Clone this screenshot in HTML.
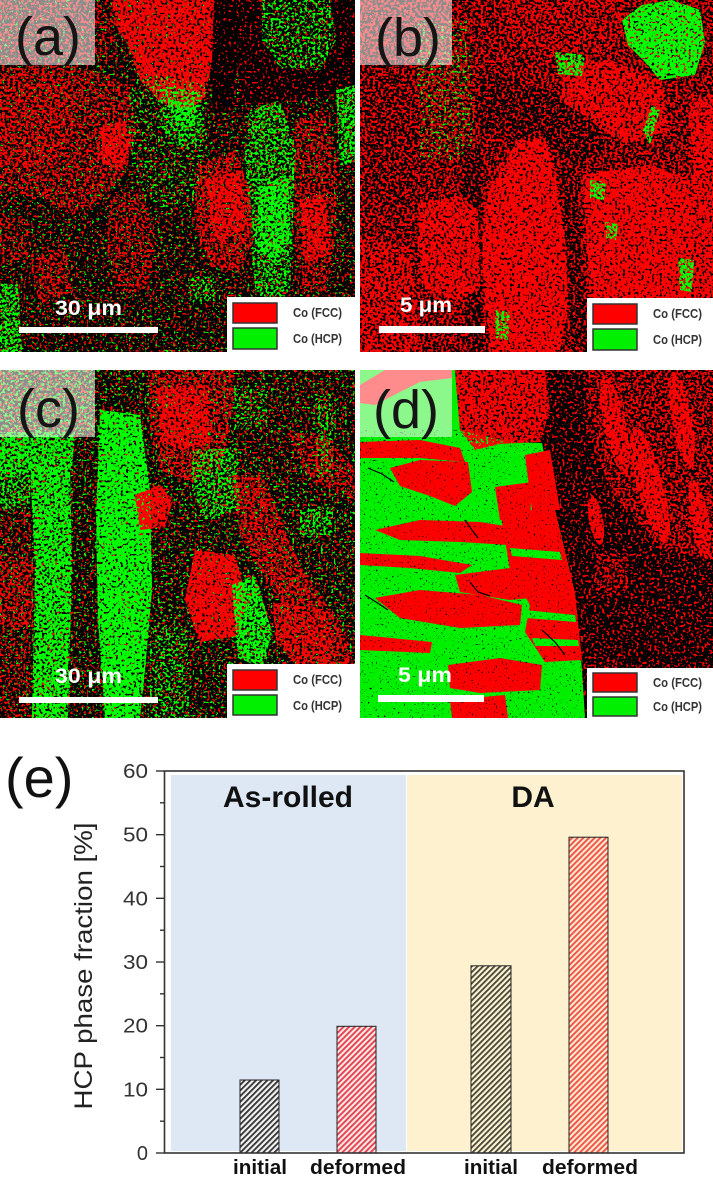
<!DOCTYPE html>
<html><head><meta charset="utf-8"><style>html,body{margin:0;padding:0;background:#fff}svg{display:block}</style></head>
<body>
<svg xmlns="http://www.w3.org/2000/svg" width="713" height="1183" viewBox="0 0 713 1183">
<defs>
<clipPath id="c1"><rect width="355" height="352"/></clipPath>
<clipPath id="c2"><rect width="353" height="352"/></clipPath>
<clipPath id="c3"><rect width="355" height="348"/></clipPath>
<clipPath id="c4"><rect width="353" height="348"/></clipPath>
<filter id="R10" x="0" y="0" width="1" height="1" color-interpolation-filters="sRGB"><feTurbulence type="fractalNoise" baseFrequency="0.38" numOctaves="2" seed="3" result="t"/><feColorMatrix in="t" type="matrix" values="0 0 0 0 0 0 0 0 0 0 0 0 0 0 0 20 0 0 0 -12.82" result="a"/><feComposite in="SourceGraphic" in2="a" operator="in"/></filter>
<filter id="R15" x="0" y="0" width="1" height="1" color-interpolation-filters="sRGB"><feTurbulence type="fractalNoise" baseFrequency="0.38" numOctaves="2" seed="3" result="t"/><feColorMatrix in="t" type="matrix" values="0 0 0 0 0 0 0 0 0 0 0 0 0 0 0 20 0 0 0 -12.28" result="a"/><feComposite in="SourceGraphic" in2="a" operator="in"/></filter>
<filter id="R20" x="0" y="0" width="1" height="1" color-interpolation-filters="sRGB"><feTurbulence type="fractalNoise" baseFrequency="0.38" numOctaves="2" seed="3" result="t"/><feColorMatrix in="t" type="matrix" values="0 0 0 0 0 0 0 0 0 0 0 0 0 0 0 20 0 0 0 -11.85" result="a"/><feComposite in="SourceGraphic" in2="a" operator="in"/></filter>
<filter id="R25" x="0" y="0" width="1" height="1" color-interpolation-filters="sRGB"><feTurbulence type="fractalNoise" baseFrequency="0.38" numOctaves="2" seed="3" result="t"/><feColorMatrix in="t" type="matrix" values="0 0 0 0 0 0 0 0 0 0 0 0 0 0 0 20 0 0 0 -11.48" result="a"/><feComposite in="SourceGraphic" in2="a" operator="in"/></filter>
<filter id="R30" x="0" y="0" width="1" height="1" color-interpolation-filters="sRGB"><feTurbulence type="fractalNoise" baseFrequency="0.38" numOctaves="2" seed="3" result="t"/><feColorMatrix in="t" type="matrix" values="0 0 0 0 0 0 0 0 0 0 0 0 0 0 0 20 0 0 0 -11.15" result="a"/><feComposite in="SourceGraphic" in2="a" operator="in"/></filter>
<filter id="R35" x="0" y="0" width="1" height="1" color-interpolation-filters="sRGB"><feTurbulence type="fractalNoise" baseFrequency="0.38" numOctaves="2" seed="3" result="t"/><feColorMatrix in="t" type="matrix" values="0 0 0 0 0 0 0 0 0 0 0 0 0 0 0 20 0 0 0 -10.85" result="a"/><feComposite in="SourceGraphic" in2="a" operator="in"/></filter>
<filter id="R40" x="0" y="0" width="1" height="1" color-interpolation-filters="sRGB"><feTurbulence type="fractalNoise" baseFrequency="0.38" numOctaves="2" seed="3" result="t"/><feColorMatrix in="t" type="matrix" values="0 0 0 0 0 0 0 0 0 0 0 0 0 0 0 20 0 0 0 -10.56" result="a"/><feComposite in="SourceGraphic" in2="a" operator="in"/></filter>
<filter id="R45" x="0" y="0" width="1" height="1" color-interpolation-filters="sRGB"><feTurbulence type="fractalNoise" baseFrequency="0.38" numOctaves="2" seed="3" result="t"/><feColorMatrix in="t" type="matrix" values="0 0 0 0 0 0 0 0 0 0 0 0 0 0 0 20 0 0 0 -10.28" result="a"/><feComposite in="SourceGraphic" in2="a" operator="in"/></filter>
<filter id="R50" x="0" y="0" width="1" height="1" color-interpolation-filters="sRGB"><feTurbulence type="fractalNoise" baseFrequency="0.38" numOctaves="2" seed="3" result="t"/><feColorMatrix in="t" type="matrix" values="0 0 0 0 0 0 0 0 0 0 0 0 0 0 0 20 0 0 0 -10" result="a"/><feComposite in="SourceGraphic" in2="a" operator="in"/></filter>
<filter id="R55" x="0" y="0" width="1" height="1" color-interpolation-filters="sRGB"><feTurbulence type="fractalNoise" baseFrequency="0.38" numOctaves="2" seed="3" result="t"/><feColorMatrix in="t" type="matrix" values="0 0 0 0 0 0 0 0 0 0 0 0 0 0 0 20 0 0 0 -9.72" result="a"/><feComposite in="SourceGraphic" in2="a" operator="in"/></filter>
<filter id="R60" x="0" y="0" width="1" height="1" color-interpolation-filters="sRGB"><feTurbulence type="fractalNoise" baseFrequency="0.38" numOctaves="2" seed="3" result="t"/><feColorMatrix in="t" type="matrix" values="0 0 0 0 0 0 0 0 0 0 0 0 0 0 0 20 0 0 0 -9.44" result="a"/><feComposite in="SourceGraphic" in2="a" operator="in"/></filter>
<filter id="R65" x="0" y="0" width="1" height="1" color-interpolation-filters="sRGB"><feTurbulence type="fractalNoise" baseFrequency="0.38" numOctaves="2" seed="3" result="t"/><feColorMatrix in="t" type="matrix" values="0 0 0 0 0 0 0 0 0 0 0 0 0 0 0 20 0 0 0 -9.15" result="a"/><feComposite in="SourceGraphic" in2="a" operator="in"/></filter>
<filter id="R75" x="0" y="0" width="1" height="1" color-interpolation-filters="sRGB"><feTurbulence type="fractalNoise" baseFrequency="0.38" numOctaves="2" seed="3" result="t"/><feColorMatrix in="t" type="matrix" values="0 0 0 0 0 0 0 0 0 0 0 0 0 0 0 20 0 0 0 -8.52" result="a"/><feComposite in="SourceGraphic" in2="a" operator="in"/></filter>
<filter id="R85" x="0" y="0" width="1" height="1" color-interpolation-filters="sRGB"><feTurbulence type="fractalNoise" baseFrequency="0.38" numOctaves="2" seed="3" result="t"/><feColorMatrix in="t" type="matrix" values="0 0 0 0 0 0 0 0 0 0 0 0 0 0 0 20 0 0 0 -7.72" result="a"/><feComposite in="SourceGraphic" in2="a" operator="in"/></filter>
<filter id="R90" x="0" y="0" width="1" height="1" color-interpolation-filters="sRGB"><feTurbulence type="fractalNoise" baseFrequency="0.38" numOctaves="2" seed="3" result="t"/><feColorMatrix in="t" type="matrix" values="0 0 0 0 0 0 0 0 0 0 0 0 0 0 0 20 0 0 0 -7.18" result="a"/><feComposite in="SourceGraphic" in2="a" operator="in"/></filter>
<filter id="G08" x="0" y="0" width="1" height="1" color-interpolation-filters="sRGB"><feTurbulence type="fractalNoise" baseFrequency="0.38" numOctaves="2" seed="11" result="t"/><feColorMatrix in="t" type="matrix" values="0 0 0 0 0 0 0 0 0 0 0 0 0 0 0 20 0 0 0 -13.1" result="a"/><feComposite in="SourceGraphic" in2="a" operator="in"/></filter>
<filter id="G12" x="0" y="0" width="1" height="1" color-interpolation-filters="sRGB"><feTurbulence type="fractalNoise" baseFrequency="0.38" numOctaves="2" seed="11" result="t"/><feColorMatrix in="t" type="matrix" values="0 0 0 0 0 0 0 0 0 0 0 0 0 0 0 20 0 0 0 -12.58" result="a"/><feComposite in="SourceGraphic" in2="a" operator="in"/></filter>
<filter id="G20" x="0" y="0" width="1" height="1" color-interpolation-filters="sRGB"><feTurbulence type="fractalNoise" baseFrequency="0.38" numOctaves="2" seed="11" result="t"/><feColorMatrix in="t" type="matrix" values="0 0 0 0 0 0 0 0 0 0 0 0 0 0 0 20 0 0 0 -11.85" result="a"/><feComposite in="SourceGraphic" in2="a" operator="in"/></filter>
<filter id="G35" x="0" y="0" width="1" height="1" color-interpolation-filters="sRGB"><feTurbulence type="fractalNoise" baseFrequency="0.38" numOctaves="2" seed="11" result="t"/><feColorMatrix in="t" type="matrix" values="0 0 0 0 0 0 0 0 0 0 0 0 0 0 0 20 0 0 0 -10.85" result="a"/><feComposite in="SourceGraphic" in2="a" operator="in"/></filter>
<filter id="G40" x="0" y="0" width="1" height="1" color-interpolation-filters="sRGB"><feTurbulence type="fractalNoise" baseFrequency="0.38" numOctaves="2" seed="11" result="t"/><feColorMatrix in="t" type="matrix" values="0 0 0 0 0 0 0 0 0 0 0 0 0 0 0 20 0 0 0 -10.56" result="a"/><feComposite in="SourceGraphic" in2="a" operator="in"/></filter>
<filter id="G50" x="0" y="0" width="1" height="1" color-interpolation-filters="sRGB"><feTurbulence type="fractalNoise" baseFrequency="0.38" numOctaves="2" seed="11" result="t"/><feColorMatrix in="t" type="matrix" values="0 0 0 0 0 0 0 0 0 0 0 0 0 0 0 20 0 0 0 -10" result="a"/><feComposite in="SourceGraphic" in2="a" operator="in"/></filter>
<filter id="G60" x="0" y="0" width="1" height="1" color-interpolation-filters="sRGB"><feTurbulence type="fractalNoise" baseFrequency="0.38" numOctaves="2" seed="11" result="t"/><feColorMatrix in="t" type="matrix" values="0 0 0 0 0 0 0 0 0 0 0 0 0 0 0 20 0 0 0 -9.44" result="a"/><feComposite in="SourceGraphic" in2="a" operator="in"/></filter>
<filter id="G70" x="0" y="0" width="1" height="1" color-interpolation-filters="sRGB"><feTurbulence type="fractalNoise" baseFrequency="0.38" numOctaves="2" seed="11" result="t"/><feColorMatrix in="t" type="matrix" values="0 0 0 0 0 0 0 0 0 0 0 0 0 0 0 20 0 0 0 -8.85" result="a"/><feComposite in="SourceGraphic" in2="a" operator="in"/></filter>
<filter id="G75" x="0" y="0" width="1" height="1" color-interpolation-filters="sRGB"><feTurbulence type="fractalNoise" baseFrequency="0.38" numOctaves="2" seed="11" result="t"/><feColorMatrix in="t" type="matrix" values="0 0 0 0 0 0 0 0 0 0 0 0 0 0 0 20 0 0 0 -8.52" result="a"/><feComposite in="SourceGraphic" in2="a" operator="in"/></filter>
<filter id="G80" x="0" y="0" width="1" height="1" color-interpolation-filters="sRGB"><feTurbulence type="fractalNoise" baseFrequency="0.38" numOctaves="2" seed="11" result="t"/><feColorMatrix in="t" type="matrix" values="0 0 0 0 0 0 0 0 0 0 0 0 0 0 0 20 0 0 0 -8.15" result="a"/><feComposite in="SourceGraphic" in2="a" operator="in"/></filter>
<filter id="G90" x="0" y="0" width="1" height="1" color-interpolation-filters="sRGB"><feTurbulence type="fractalNoise" baseFrequency="0.38" numOctaves="2" seed="11" result="t"/><feColorMatrix in="t" type="matrix" values="0 0 0 0 0 0 0 0 0 0 0 0 0 0 0 20 0 0 0 -7.18" result="a"/><feComposite in="SourceGraphic" in2="a" operator="in"/></filter>
<filter id="K04" x="0" y="0" width="1" height="1" color-interpolation-filters="sRGB"><feTurbulence type="fractalNoise" baseFrequency="0.5" numOctaves="2" seed="21" result="t"/><feColorMatrix in="t" type="matrix" values="0 0 0 0 0 0 0 0 0 0 0 0 0 0 0 20 0 0 0 -13.8" result="a"/><feComposite in="SourceGraphic" in2="a" operator="in"/></filter>
<pattern id="h1" patternUnits="userSpaceOnUse" width="4" height="4" patternTransform="rotate(45)"><rect width="4" height="4" fill="#f4f4f4"/><rect width="1.9" height="4" fill="#3a3a3a"/></pattern>
<pattern id="h2" patternUnits="userSpaceOnUse" width="4" height="4" patternTransform="rotate(45)"><rect width="4" height="4" fill="#fde6e6"/><rect width="1.9" height="4" fill="#e2434f"/></pattern>
<pattern id="h3" patternUnits="userSpaceOnUse" width="4" height="4" patternTransform="rotate(45)"><rect width="4" height="4" fill="#fff6d6"/><rect width="1.9" height="4" fill="#4d4b3c"/></pattern>
<pattern id="h4" patternUnits="userSpaceOnUse" width="4" height="4" patternTransform="rotate(45)"><rect width="4" height="4" fill="#ffe8d2"/><rect width="1.9" height="4" fill="#ee5444"/></pattern>
</defs>

<rect width="713" height="1183" fill="#fff"/>

<!-- ================= PANEL (a) ================= -->
<g transform="translate(0,0)" clip-path="url(#c1)">
<rect width="355" height="352" fill="#000"/>
<rect width="355" height="352" fill="#f00" filter="url(#R20)"/>
<rect width="355" height="352" fill="#0f0" filter="url(#G08)"/>
<polygon points="212,0 236,0 238,60 232,112 214,114 208,60" fill="#000"/>
<polygon points="212,0 236,0 238,60 232,112 214,114 208,60" fill="#f00" filter="url(#R10)"/>
<polygon points="236,0 355,0 355,90 300,100 240,105" fill="#000"/>
<polygon points="236,0 355,0 355,90 300,100 240,105" fill="#f00" filter="url(#R15)"/>
<polygon points="0,0 112,0 118,60 60,66 0,66" fill="#f00" filter="url(#R40)"/>
<polygon points="112,0 214,0 212,60 205,100 185,110 160,102 140,80 128,45 115,25" fill="#f00" filter="url(#R85)"/>
<polygon points="0,68 55,64 100,72 130,88 136,130 126,172 100,200 70,215 40,198 0,192" fill="#f00" filter="url(#R50)"/>
<polygon points="0,75 50,72 75,90 70,140 45,170 0,165" fill="#f00" filter="url(#R60)"/>
<polygon points="98,128 125,120 132,150 120,170 100,162" fill="#f00" filter="url(#R85)"/>
<polygon points="130,80 165,75 205,85 210,150 195,200 160,210 135,180 128,120" fill="#0f0" filter="url(#G20)"/>
<polygon points="160,88 200,90 204,140 180,148 162,130" fill="#0f0" filter="url(#G50)"/>
<polygon points="170,100 196,104 195,128 176,126" fill="#0f0" filter="url(#G80)"/>
<polygon points="262,0 330,0 336,40 320,70 280,68 262,40" fill="#0f0" filter="url(#G35)"/>
<polygon points="250,110 280,100 296,150 293,220 290,290 275,302 255,292 250,220 245,160" fill="#0f0" filter="url(#G50)"/>
<polygon points="258,185 288,178 291,240 276,262 258,248" fill="#0f0" filter="url(#G80)"/>
<polygon points="295,120 325,110 337,160 337,230 326,292 300,292 294,220" fill="#f00" filter="url(#R50)"/>
<polygon points="300,200 325,195 330,255 305,262" fill="#f00" filter="url(#R85)"/>
<polygon points="336,90 355,85 355,162 340,166" fill="#0f0" filter="url(#G60)"/>
<polygon points="198,165 235,150 250,190 253,240 240,272 210,266 194,222" fill="#f00" filter="url(#R60)"/>
<polygon points="205,180 240,170 246,230 215,240" fill="#f00" filter="url(#R85)"/>
<polygon points="110,198 140,188 156,240 150,292 120,292 106,250" fill="#f00" filter="url(#R45)"/>
<polygon points="28,255 66,248 72,292 40,306" fill="#f00" filter="url(#R50)"/>
<polygon points="0,215 30,220 28,262 0,266" fill="#f00" filter="url(#R40)"/>
<polygon points="0,283 18,285 22,352 0,352" fill="#0f0" filter="url(#G60)"/>
<polygon points="188,278 215,276 216,300 190,302" fill="#0f0" filter="url(#G40)"/>
<rect x="0" y="0" width="95" height="65" fill="#fff" fill-opacity="0.55"/>
<text x="15" y="55" font-family="Liberation Sans, sans-serif" font-size="54" fill="#151515">(a)</text>
<text x="55" y="315" font-family="Liberation Sans, sans-serif" font-size="21" font-weight="bold" fill="#fff" textLength="67" lengthAdjust="spacingAndGlyphs">30 μm</text>
<rect x="19" y="327" width="139" height="6" fill="#fff"/>
<g transform="translate(227,297)">
<rect width="130" height="57" fill="#fff"/>
<rect x="6" y="6" width="44" height="20" fill="#f00" stroke="#333" stroke-width="1.5"/>
<rect x="6" y="31" width="44" height="21" fill="#00f000" stroke="#333" stroke-width="1.5"/>
<text x="66" y="20" font-family="Liberation Sans, sans-serif" font-size="12.5" font-weight="bold" fill="#333" textLength="49" lengthAdjust="spacingAndGlyphs">Co (FCC)</text>
<text x="66" y="46" font-family="Liberation Sans, sans-serif" font-size="12.5" font-weight="bold" fill="#333" textLength="49" lengthAdjust="spacingAndGlyphs">Co (HCP)</text>
</g>
</g>

<!-- ================= PANEL (b) ================= -->
<g transform="translate(360,0)" clip-path="url(#c2)">
<rect width="353" height="352" fill="#000"/>
<rect width="353" height="352" fill="#f00" filter="url(#R55)"/>
<polygon points="55,20 110,20 115,160 60,160" fill="#0f0" filter="url(#G12)"/>
<polygon points="120,70 170,85 230,105 245,150 215,165 190,145 150,140 115,130" fill="#000"/>
<polygon points="120,70 170,85 230,105 245,150 215,165 190,145 150,140 115,130" fill="#f00" filter="url(#R40)"/>
<polygon points="5,60 40,50 60,110 55,200 30,210 5,190" fill="#000"/>
<polygon points="5,60 40,50 60,110 55,200 30,210 5,190" fill="#f00" filter="url(#R50)"/>
<polygon points="105,145 122,150 120,250 123,352 113,352 105,260 100,180" fill="#000"/>
<polygon points="105,145 122,150 120,250 123,352 113,352 105,260 100,180" fill="#f00" filter="url(#R35)"/>
<polygon points="200,165 216,170 222,260 226,352 212,352 207,262" fill="#000"/>
<polygon points="200,165 216,170 222,260 226,352 212,352 207,262" fill="#f00" filter="url(#R40)"/>
<polygon points="140,0 260,0 262,40 230,60 180,55 150,40" fill="#f00" filter="url(#R65)"/>
<polygon points="128,190 158,140 185,138 196,178 205,240 208,300 200,352 132,352 124,300 122,240" fill="#f00" filter="url(#R90)"/>
<polygon points="58,205 100,195 118,210 120,290 95,300 62,290" fill="#f00" filter="url(#R85)"/>
<polygon points="222,175 290,165 330,180 335,260 330,352 232,352 228,260" fill="#f00" filter="url(#R90)"/>
<polygon points="205,65 250,60 300,80 310,130 265,145 230,120 200,100" fill="#f00" filter="url(#R85)"/>
<polygon points="330,100 353,95 353,352 335,352" fill="#f00" filter="url(#R85)"/>
<polygon points="0,240 50,245 60,352 0,352" fill="#f00" filter="url(#R75)"/>
<polygon points="262,20 282,5 312,0 340,10 345,42 335,75 300,80 285,62 268,45" fill="#0f0" filter="url(#G90)"/>
<polygon points="195,52 225,55 222,76 198,74" fill="#0f0" filter="url(#G70)"/>
<polygon points="230,180 246,182 244,200 230,198" fill="#0f0" filter="url(#G70)"/>
<polygon points="318,258 334,260 332,292 320,290" fill="#0f0" filter="url(#G75)"/>
<polygon points="245,222 258,224 256,240 246,238" fill="#0f0" filter="url(#G60)"/>
<polygon points="135,310 150,312 148,340 136,338" fill="#0f0" filter="url(#G60)"/>
<polygon points="283,130 292,105 300,110 290,145" fill="#0f0" filter="url(#G70)"/>
<rect x="0" y="0" width="92" height="65" fill="#fff" fill-opacity="0.55"/>
<text x="15" y="56" font-family="Liberation Sans, sans-serif" font-size="54" fill="#151515">(b)</text>
<text x="40" y="312" font-family="Liberation Sans, sans-serif" font-size="21" font-weight="bold" fill="#fff" textLength="52" lengthAdjust="spacingAndGlyphs">5 μm</text>
<rect x="19" y="326" width="106" height="7" fill="#fff"/>
<g transform="translate(227,298)">
<rect width="130" height="56" fill="#fff"/>
<rect x="6" y="6" width="44" height="20" fill="#f00" stroke="#333" stroke-width="1.5"/>
<rect x="6" y="31" width="44" height="21" fill="#00f000" stroke="#333" stroke-width="1.5"/>
<text x="66" y="20" font-family="Liberation Sans, sans-serif" font-size="12.5" font-weight="bold" fill="#333" textLength="49" lengthAdjust="spacingAndGlyphs">Co (FCC)</text>
<text x="66" y="46" font-family="Liberation Sans, sans-serif" font-size="12.5" font-weight="bold" fill="#333" textLength="49" lengthAdjust="spacingAndGlyphs">Co (HCP)</text>
</g>
</g>

<!-- ================= PANEL (c) ================= -->
<g transform="translate(0,370)" clip-path="url(#c3)">
<rect width="355" height="348" fill="#000"/>
<rect width="355" height="348" fill="#f00" filter="url(#R20)"/>
<rect width="355" height="348" fill="#0f0" filter="url(#G12)"/>
<polygon points="0,0 95,0 95,62 0,62" fill="#0f0" filter="url(#G40)"/>
<polygon points="0,0 95,0 95,62 0,62" fill="#f00" filter="url(#R25)"/>
<polygon points="0,140 30,140 30,348 0,348" fill="#f00" filter="url(#R35)"/>
<polygon points="0,190 33,190 33,257 0,257" fill="#f00" filter="url(#R55)"/>
<polygon points="0,62 75,62 72,100 0,105" fill="#0f0" filter="url(#G75)"/>
<polygon points="0,80 30,80 30,135 0,140" fill="#0f0" filter="url(#G50)"/>
<polygon points="30,95 70,95 72,200 68,348 32,348 35,200" fill="#0f0" filter="url(#G80)"/>
<polygon points="100,40 140,45 150,120 152,220 145,300 140,348 105,348 98,250 96,150" fill="#0f0" filter="url(#G90)"/>
<polygon points="148,0 235,0 232,50 220,100 190,112 160,100 150,60" fill="#f00" filter="url(#R55)"/>
<polygon points="157,18 207,15 210,72 180,80 160,70" fill="#f00" filter="url(#R85)"/>
<polygon points="135,125 160,115 173,130 165,157 140,160" fill="#f00" filter="url(#R90)"/>
<polygon points="193,80 237,78 240,140 205,150 192,120" fill="#0f0" filter="url(#G50)"/>
<polygon points="233,20 267,18 267,57 235,58" fill="#0f0" filter="url(#G35)"/>
<polygon points="300,140 333,138 333,165 300,165" fill="#0f0" filter="url(#G50)"/>
<polygon points="315,25 333,25 333,107 317,107" fill="#0f0" filter="url(#G40)"/>
<polygon points="240,0 355,0 355,100 240,100" fill="#f00" filter="url(#R15)"/>
<polygon points="285,60 330,70 355,100 355,130 310,110" fill="#f00" filter="url(#R50)"/>
<polygon points="232,105 262,105 300,195 345,262 355,300 330,305 280,232 240,165" fill="#f00" filter="url(#R60)"/>
<polygon points="195,180 235,185 247,230 237,266 200,272 185,230" fill="#f00" filter="url(#R90)"/>
<polygon points="273,232 325,240 335,295 300,300 275,270" fill="#f00" filter="url(#R75)"/>
<polygon points="232,215 255,205 272,262 263,298 238,288" fill="#0f0" filter="url(#G75)"/>
<polygon points="150,257 187,257 190,348 150,348" fill="#0f0" filter="url(#G35)"/>
<rect x="0" y="0" width="95" height="67" fill="#fff" fill-opacity="0.55"/>
<text x="17" y="57" font-family="Liberation Sans, sans-serif" font-size="54" fill="#151515">(c)</text>
<text x="55" y="313" font-family="Liberation Sans, sans-serif" font-size="21" font-weight="bold" fill="#fff" textLength="67" lengthAdjust="spacingAndGlyphs">30 μm</text>
<rect x="19" y="327" width="139" height="6" fill="#fff"/>
<g transform="translate(227,294)">
<rect width="130" height="56" fill="#fff"/>
<rect x="6" y="6" width="44" height="20" fill="#f00" stroke="#333" stroke-width="1.5"/>
<rect x="6" y="31" width="44" height="20" fill="#00f000" stroke="#333" stroke-width="1.5"/>
<text x="66" y="20" font-family="Liberation Sans, sans-serif" font-size="12.5" font-weight="bold" fill="#333" textLength="49" lengthAdjust="spacingAndGlyphs">Co (FCC)</text>
<text x="66" y="46" font-family="Liberation Sans, sans-serif" font-size="12.5" font-weight="bold" fill="#333" textLength="49" lengthAdjust="spacingAndGlyphs">Co (HCP)</text>
</g>
</g>

<!-- ================= PANEL (d) ================= -->
<g transform="translate(360,370)" clip-path="url(#c4)">
<rect width="353" height="348" fill="#000"/>
<rect x="180" y="0" width="173" height="348" fill="#f00" filter="url(#R25)"/>
<polygon points="225,0 353,0 353,190 300,180 250,120 228,60" fill="#f00" filter="url(#R55)"/>
<g fill="#f00" filter="url(#R90)">
<ellipse cx="255" cy="55" rx="11" ry="50" transform="rotate(-12 255 55)"/>
<ellipse cx="290" cy="115" rx="13" ry="60" transform="rotate(-15 290 115)"/>
<ellipse cx="322" cy="50" rx="10" ry="48" transform="rotate(-10 322 50)"/>
<ellipse cx="340" cy="150" rx="9" ry="40" transform="rotate(-10 340 150)"/>
<ellipse cx="236" cy="150" rx="7" ry="25" transform="rotate(-10 236 150)"/>
</g>
<polygon points="235,183 268,183 268,223 235,223" fill="#f00" filter="url(#R50)"/>
<polygon points="240,290 262,290 262,323 240,323" fill="#f00" filter="url(#R45)"/>
<polygon points="0,0 95,0 100,60 150,72 182,73 195,140 215,223 222,300 225,348 0,348" fill="#00f000"/>
<polygon points="95,0 185,0 190,40 180,72 140,74 115,80 100,60" fill="#f00" filter="url(#R85)"/>
<polygon points="25,0 92,0 92,8 60,12 40,22 15,35 0,33 0,15" fill="#f00"/>
<g fill="#f00">
<polygon points="0,72 60,70 100,78 105,92 60,88 0,88"/>
<polygon points="30,98 60,90 108,92 112,122 95,136 70,126 40,116"/>
<polygon points="135,117 172,112 170,150 140,150"/>
<polygon points="165,85 190,80 200,140 172,140"/>
<polygon points="15,160 60,150 120,152 158,158 150,175 100,172 40,170"/>
<polygon points="0,183 60,186 112,195 100,203 50,198 0,195"/>
<polygon points="95,205 150,198 200,200 202,225 150,230 100,222"/>
<polygon points="15,228 60,220 120,225 162,235 160,255 100,258 40,248"/>
<polygon points="0,265 72,272 70,283 0,280"/>
<polygon points="88,295 140,288 182,295 180,320 120,323 90,318"/>
<polygon points="90,330 145,325 148,348 92,348"/>
<polygon points="140,140 195,140 215,223 222,290 185,292 165,262 170,235 150,200"/>
</g>
<g fill="#00f000">
<polygon points="150,178 200,182 202,190 152,186"/>
<polygon points="165,240 215,245 216,252 166,248"/>
<polygon points="172,268 218,270 219,276 175,276"/>
</g>
<polygon points="0,60 225,60 225,348 0,348" fill="#000" filter="url(#K04)"/>
<g stroke="#000" stroke-width="1.2" fill="none">
<polyline points="8,98 22,104 34,112"/>
<polyline points="105,150 112,160 118,168"/>
<polyline points="110,212 118,222 130,226"/>
<polyline points="182,260 195,272 205,285"/>
<polyline points="5,225 16,232 28,240"/>
</g>
<rect x="0" y="0" width="92" height="67" fill="#fff" fill-opacity="0.55"/>
<text x="13" y="58" font-family="Liberation Sans, sans-serif" font-size="54" fill="#151515">(d)</text>
<text x="38" y="312" font-family="Liberation Sans, sans-serif" font-size="21" font-weight="bold" fill="#fff" textLength="54" lengthAdjust="spacingAndGlyphs">5 μm</text>
<rect x="18" y="325" width="106" height="7" fill="#fff"/>
<g transform="translate(227,298)">
<rect width="130" height="52" fill="#fff"/>
<rect x="6" y="5" width="44" height="19" fill="#f00" stroke="#333" stroke-width="1.5"/>
<rect x="6" y="29" width="44" height="19" fill="#00f000" stroke="#333" stroke-width="1.5"/>
<text x="66" y="19" font-family="Liberation Sans, sans-serif" font-size="12.5" font-weight="bold" fill="#333" textLength="49" lengthAdjust="spacingAndGlyphs">Co (FCC)</text>
<text x="66" y="43" font-family="Liberation Sans, sans-serif" font-size="12.5" font-weight="bold" fill="#333" textLength="49" lengthAdjust="spacingAndGlyphs">Co (HCP)</text>
</g>
</g>

<!-- ================= PANEL (e) chart ================= -->
<text x="5" y="797" font-family="Liberation Sans, sans-serif" font-size="56" fill="#111">(e)</text>
<rect x="171" y="775" width="235" height="376" fill="#dde8f4"/>
<rect x="407" y="775" width="275" height="376" fill="#fdf1cf"/>
<text x="288" y="807" text-anchor="middle" font-family="Liberation Sans, sans-serif" font-size="30" font-weight="bold" fill="#111" textLength="130" lengthAdjust="spacingAndGlyphs">As-rolled</text>
<text x="533" y="807" text-anchor="middle" font-family="Liberation Sans, sans-serif" font-size="30" font-weight="bold" fill="#111">DA</text>

<rect x="240" y="1080" width="39" height="73" fill="url(#h1)" stroke="#222" stroke-width="1"/>
<rect x="337" y="1026.3" width="39" height="126.7" fill="url(#h2)" stroke="#222" stroke-width="1"/>
<rect x="471" y="965.8" width="40" height="187.2" fill="url(#h3)" stroke="#222" stroke-width="1"/>
<rect x="569" y="837.2" width="39" height="315.8" fill="url(#h4)" stroke="#222" stroke-width="1"/>

<rect x="164.5" y="771" width="519.5" height="382" fill="none" stroke="#333" stroke-width="1.6"/>
<g stroke="#333" stroke-width="1.4">
<line x1="156" y1="1153" x2="164" y2="1153"/>
<line x1="156" y1="1089.3" x2="164" y2="1089.3"/>
<line x1="156" y1="1025.7" x2="164" y2="1025.7"/>
<line x1="156" y1="962" x2="164" y2="962"/>
<line x1="156" y1="898.3" x2="164" y2="898.3"/>
<line x1="156" y1="834.7" x2="164" y2="834.7"/>
<line x1="156" y1="771" x2="164" y2="771"/>
<line x1="160" y1="1121.2" x2="164" y2="1121.2"/>
<line x1="160" y1="1057.5" x2="164" y2="1057.5"/>
<line x1="160" y1="993.8" x2="164" y2="993.8"/>
<line x1="160" y1="930.2" x2="164" y2="930.2"/>
<line x1="160" y1="866.5" x2="164" y2="866.5"/>
<line x1="160" y1="802.8" x2="164" y2="802.8"/>
</g>
<g font-family="Liberation Sans, sans-serif" font-size="20" fill="#333" text-anchor="end">
<text x="148" y="1160">0</text>
<text x="148" y="1096.3" textLength="25" lengthAdjust="spacingAndGlyphs">10</text>
<text x="148" y="1032.7" textLength="25" lengthAdjust="spacingAndGlyphs">20</text>
<text x="148" y="969" textLength="25" lengthAdjust="spacingAndGlyphs">30</text>
<text x="148" y="905.3" textLength="25" lengthAdjust="spacingAndGlyphs">40</text>
<text x="148" y="841.7" textLength="25" lengthAdjust="spacingAndGlyphs">50</text>
<text x="148" y="778" textLength="25" lengthAdjust="spacingAndGlyphs">60</text>
</g>
<text transform="translate(92,966) rotate(-90)" text-anchor="middle" font-family="Liberation Sans, sans-serif" font-size="25" fill="#222" textLength="287" lengthAdjust="spacingAndGlyphs">HCP phase fraction [%]</text>
<g font-family="Liberation Sans, sans-serif" font-size="20" font-weight="bold" fill="#111" text-anchor="middle">
<text x="260" y="1174" textLength="54" lengthAdjust="spacingAndGlyphs">initial</text>
<text x="358" y="1174" textLength="96" lengthAdjust="spacingAndGlyphs">deformed</text>
<text x="491" y="1174" textLength="54" lengthAdjust="spacingAndGlyphs">initial</text>
<text x="590" y="1174" textLength="96" lengthAdjust="spacingAndGlyphs">deformed</text>
</g>
</svg>
</body></html>
